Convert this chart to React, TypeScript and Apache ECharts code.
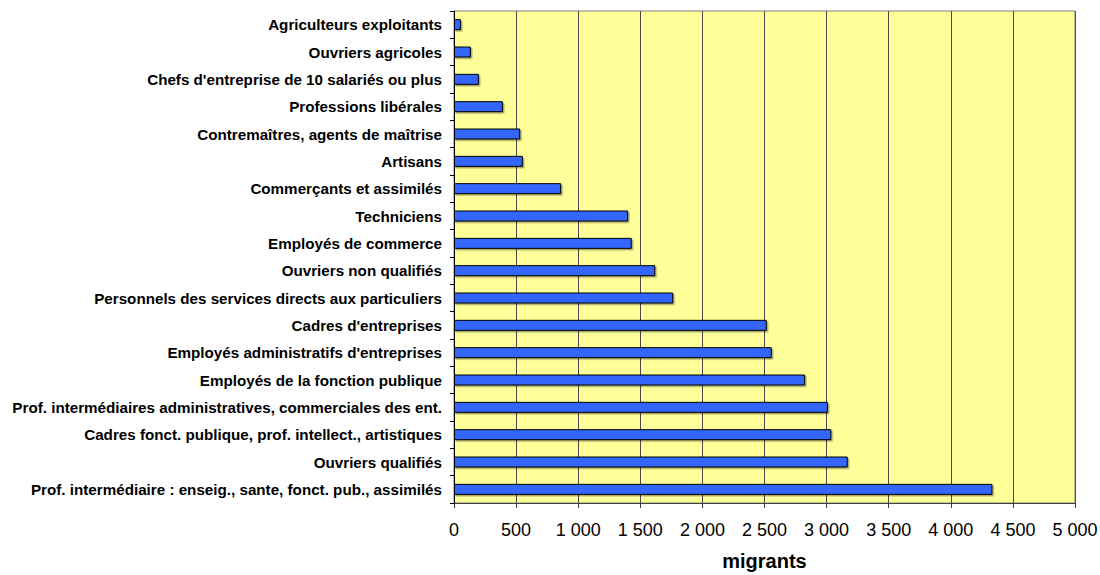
import React, { useEffect, useRef } from "react";
import * as echarts from "echarts";

// Socio-professional categories, listed top to bottom
const categories: string[] = [
  "Agriculteurs exploitants",
  "Ouvriers agricoles",
  "Chefs d'entreprise de 10 salariés ou plus",
  "Professions libérales",
  "Contremaîtres, agents de maîtrise",
  "Artisans",
  "Commerçants et assimilés",
  "Techniciens",
  "Employés de commerce",
  "Ouvriers non qualifiés",
  "Personnels des services directs aux particuliers",
  "Cadres d'entreprises",
  "Employés administratifs d'entreprises",
  "Employés de la fonction publique",
  "Prof. intermédiaires administratives, commerciales des ent.",
  "Cadres fonct. publique, prof. intellect., artistiques",
  "Ouvriers qualifiés",
  "Prof. intermédiaire : enseig., sante, fonct. pub., assimilés",
];

// Number of migrants per category
const migrants: number[] = [
  55, 135, 200, 393, 533, 554, 863, 1402, 1431, 1620, 1765, 2518, 2558, 2827,
  3010, 3038, 3170, 4335,
];

const xMin = 0;
const xMax = 5000;
const xStep = 500;

const FONT = "'Liberation Sans', Arial, Helvetica, sans-serif";

const withSpaces = (v: number) =>
  String(v).replace(/\B(?=(\d{3})+(?!\d))/g, " ");

export default function App() {
  const ref = useRef<HTMLDivElement>(null);

  useEffect(() => {
    if (!ref.current) return;
    const chart = echarts.init(ref.current, null, { renderer: "svg" });
    chart.setOption({
      animation: false,
      backgroundColor: "#ffffff",
      grid: {
        left: 454,
        right: 25,
        top: 11,
        bottom: 72,
        outerBoundsMode: "none",
        containLabel: false,
        show: true,
        backgroundColor: "#FFFF99",
        borderColor: "#808080",
        borderWidth: 1,
      },
      xAxis: {
        type: "value",
        min: xMin,
        max: xMax,
        interval: xStep,
        name: "migrants",
        nameLocation: "middle",
        nameGap: 48,
        nameTextStyle: {
          fontFamily: FONT,
          fontSize: 20,
          fontWeight: "bold",
          color: "#000",
        },
        axisLine: { show: true, lineStyle: { color: "#404040", width: 1 } },
        axisTick: {
          show: true,
          length: 5,
          lineStyle: { color: "#404040" },
        },
        axisLabel: {
          margin: 18,
          fontFamily: FONT,
          fontSize: 18,
          color: "#000",
          formatter: (v: number) => withSpaces(v),
        },
        splitLine: { show: true, lineStyle: { color: "#4a4a4a", width: 1 } },
      },
      yAxis: {
        type: "category",
        data: categories,
        inverse: true,
        axisLine: { show: true, lineStyle: { color: "#000", width: 1 } },
        axisTick: {
          show: true,
          length: 4,
          inside: false,
          lineStyle: { color: "#000" },
        },
        axisLabel: {
          margin: 12,
          fontFamily: FONT,
          fontSize: 15.2,
          fontWeight: "bold",
          color: "#000",
        },
        splitLine: { show: false },
      },
      series: [
        {
          type: "bar",
          data: migrants,
          barWidth: 11,
          itemStyle: {
            color: "#3366FF",
            borderColor: "#000000",
            borderWidth: 1,
            shadowColor: "rgba(0,0,0,0.35)",
            shadowOffsetX: 1.5,
            shadowOffsetY: 1.5,
            shadowBlur: 1,
          },
        },
      ],
    });
    return () => chart.dispose();
  }, []);

  return (
    <div
      ref={ref}
      style={{
        position: "fixed",
        left: 0,
        top: 0,
        width: 1100,
        height: 575,
      }}
    />
  );
}
